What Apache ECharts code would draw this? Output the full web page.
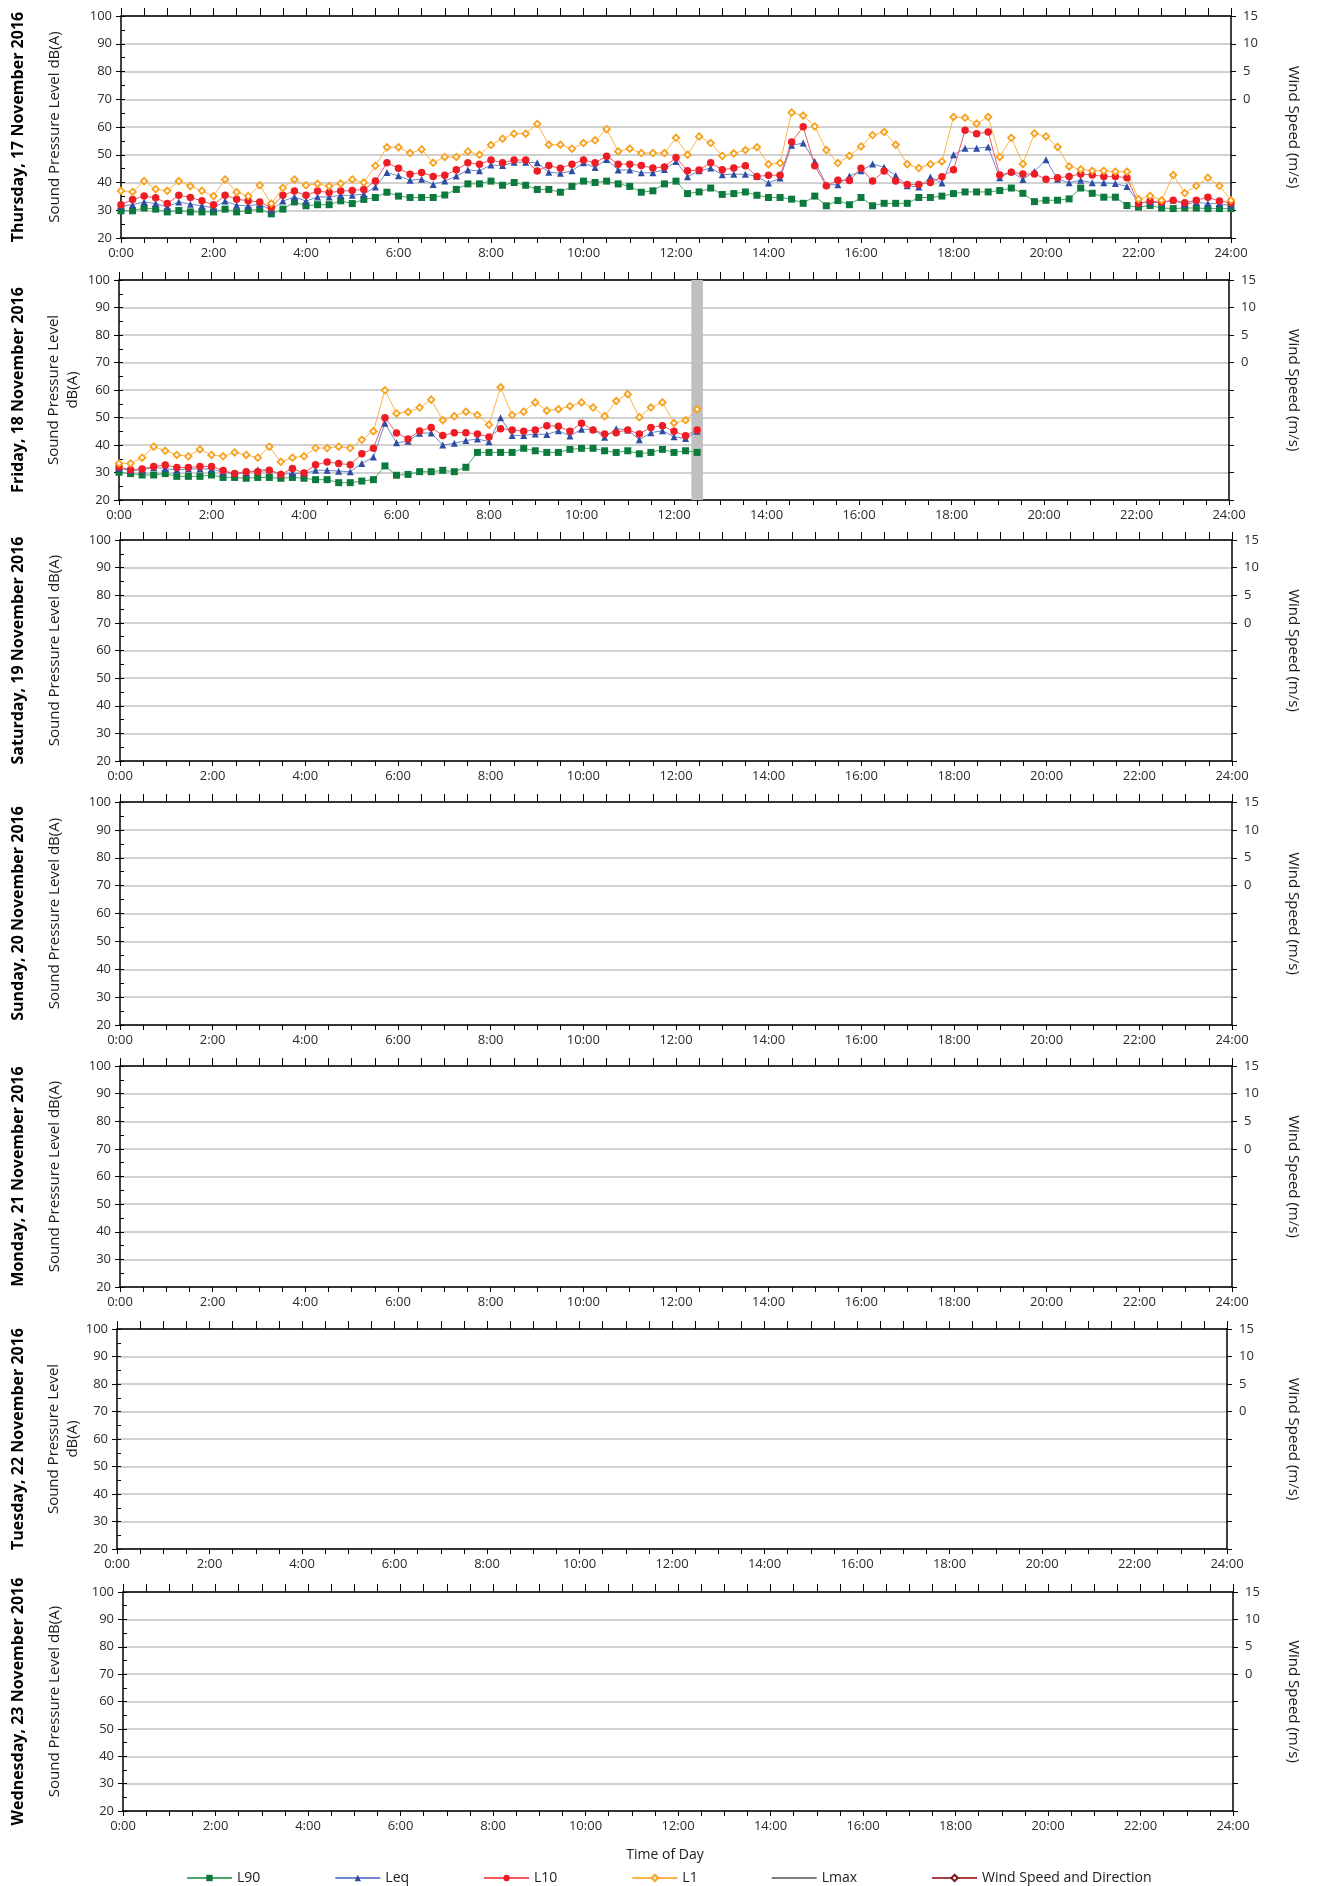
<!DOCTYPE html>
<html><head><meta charset="utf-8">
<script src="https://cdn.jsdelivr.net/npm/echarts@6/dist/echarts.min.js"></script>
<style>html,body{margin:0;padding:0;background:#fff}#c{width:1317px;height:1886px}</style>
</head><body><div id="c"></div>
<script>
// ---- labels ----
const dayTitles = ["Thursday, 17 November 2016","Friday, 18 November 2016","Saturday, 19 November 2016","Sunday, 20 November 2016","Monday, 21 November 2016","Tuesday, 22 November 2016","Wednesday, 23 November 2016"];
const leftNames = [["Sound Pressure Level dB(A)"],["Sound Pressure Level","dB(A)"],["Sound Pressure Level dB(A)"],["Sound Pressure Level dB(A)"],["Sound Pressure Level dB(A)"],["Sound Pressure Level","dB(A)"],["Sound Pressure Level dB(A)"]];
const rightName = "Wind Speed (m/s)";
const xName = "Time of Day";
const seriesNames = ["L90","Leq","L10","L1","Lmax","Wind Speed and Direction"];
const stepHours = 0.25; // 15-minute intervals

// ---- Thursday 17 Nov (0:00 .. 24:00, 15 min) ----
const thuL90 = [29.8,29.8,30.8,30.4,29.4,29.9,29.4,29.4,29.4,30.4,29.4,29.9,30.4,28.7,30.4,33.0,31.6,32.0,32.0,33.4,32.4,33.9,34.6,36.5,35.1,
34.6,34.6,34.6,35.5,37.5,39.5,39.5,40.5,39.0,40.0,39.0,37.5,37.5,36.5,38.6,40.5,40.0,40.5,39.5,38.6,36.5,37.0,39.5,40.5,36.0,36.6,38.0,35.7,36.0,36.6,35.4,34.6,34.6,34.0,32.5,35.1,31.6,33.5,32.0,34.6,31.6,32.5,32.5,32.5,34.6,34.6,35.1,36.0,36.6,36.6,36.6,37.1,38.0,36.1,33.1,33.6,33.6,34.1,38.0,36.1,34.7,34.7,31.7,31.1,31.7,30.8,30.6,30.8,30.8,30.6,30.6,30.6];
const thuLeq = [31.4,32.0,33.0,32.4,31.2,33.0,32.2,31.6,30.8,33.3,31.8,31.6,32.2,30.0,33.3,34.8,33.3,34.8,34.8,35.4,35.4,35.8,38.4,43.6,42.4,
40.8,41.2,39.3,40.5,42.3,44.5,44.2,46.3,46.1,47.3,47.3,47.1,43.7,43.3,44.2,47.1,45.4,48.3,44.5,44.5,43.5,43.5,44.7,47.6,42.1,44.2,45.2,42.8,43.0,43.0,42.2,39.8,41.6,53.4,54.2,47.6,39.2,39.2,42.3,44.2,46.7,45.5,42.5,38.8,38.4,42.0,39.8,50.0,52.3,52.3,52.8,41.7,44.0,41.1,44.0,48.2,41.2,39.9,40.8,39.9,39.9,39.6,38.6,32.7,32.9,32.7,33.6,32.2,32.9,32.4,32.4,31.6];
const thuL10 = [32.0,33.9,35.1,34.5,32.4,35.4,34.6,33.4,32.0,35.4,34.0,33.4,33.0,31.0,35.4,36.9,35.4,36.9,36.4,36.9,37.1,37.5,40.5,47.1,45.1,
43.0,43.6,42.2,42.6,44.6,47.1,46.6,48.1,47.1,48.1,48.1,44.1,46.1,45.1,46.6,48.1,47.1,49.5,46.6,46.6,46.1,45.2,45.6,49.0,44.2,44.5,47.1,44.6,45.2,46.0,42.2,42.6,42.6,54.6,60.1,46.0,38.8,40.8,40.7,45.1,40.5,44.1,40.5,39.3,39.3,40.0,42.1,44.6,58.8,57.6,58.2,42.7,43.7,43.1,43.1,41.2,41.7,42.2,43.1,42.7,42.2,42.2,41.7,32.4,33.3,32.9,33.6,32.7,33.6,34.7,33.3,32.7];
const thuL1 = [37.0,36.6,40.5,37.6,37.0,40.5,38.7,37.0,35.1,41.1,36.5,35.1,39.0,32.4,38.1,41.1,39.0,39.5,38.7,39.6,41.1,40.0,46.0,52.7,52.7,
50.6,51.9,47.1,49.2,49.2,51.2,50.0,53.5,55.8,57.6,57.6,61.1,53.6,53.6,52.2,54.2,55.2,59.2,51.2,52.2,50.6,50.6,50.6,56.1,50.0,56.6,54.2,49.6,50.5,51.7,52.7,46.6,47.0,65.2,64.1,60.2,51.7,47.0,49.6,53.0,57.1,58.2,53.6,46.6,45.2,46.6,47.6,63.6,63.3,61.2,63.6,49.2,56.1,46.7,57.7,56.6,52.8,45.8,44.7,44.2,44.2,43.9,43.9,34.0,35.2,33.6,42.7,36.2,38.8,41.7,38.8,33.6];

// ---- Friday 18 Nov (0:00 .. 12:30, 15 min) ----
const friL90 = [30.1,29.6,29.1,29.1,29.6,28.6,28.6,28.6,29.1,28.2,28.2,27.9,28.2,28.2,27.9,28.2,27.9,27.4,27.4,26.3,26.3,26.9,27.4,32.4,29.0,29.3,30.3,30.3,30.8,30.3,31.9,37.3,37.3,37.3,37.3,38.8,37.9,37.3,37.3,38.4,38.8,38.8,37.9,37.3,37.9,36.8,37.3,38.4,37.3,37.9,37.3];
const friLeq = [31.5,30.7,31.0,31.8,31.5,30.9,31.3,31.3,31.3,30.1,29.6,29.8,31.0,31.0,29.3,29.8,29.6,30.8,30.8,30.5,30.3,33.3,35.6,47.9,40.8,41.4,44.3,44.4,40.0,40.6,41.6,42.2,41.2,49.9,43.5,43.5,44.0,43.8,45.2,43.3,45.7,45.7,42.8,45.9,45.5,41.9,44.5,45.2,43.0,42.4,45.0];
const friL10 = [32.0,31.0,31.3,32.2,32.7,31.8,31.8,32.2,32.2,30.7,29.6,30.3,30.3,30.8,29.3,31.5,29.8,32.8,33.8,33.3,32.8,36.8,38.8,49.9,44.4,42.2,45.1,46.4,43.5,44.5,44.5,44.0,42.9,45.9,45.5,45.0,45.5,47.0,46.8,45.0,47.9,45.5,44.0,44.5,45.5,44.0,46.4,47.0,45.0,43.4,45.5];
const friL1 = [33.3,33.3,35.4,39.4,37.9,36.4,35.9,38.4,36.4,35.9,37.3,36.4,35.4,39.4,33.9,35.4,35.9,38.9,38.9,39.4,38.9,41.9,45.0,59.9,51.5,52.0,53.6,56.5,49.0,50.5,52.1,50.9,47.4,61.0,50.9,52.1,55.5,52.5,53.0,54.1,55.5,53.6,50.5,56.0,58.5,50.1,53.6,55.5,48.0,49.0,53.0];
const friGapBand = [12.375, 12.625]; // hours, grey band

// ---- layout ----
const panels = [
  {l:121, r:1231, t:16,   b:238},
  {l:119, r:1229, t:280,  b:500},
  {l:120, r:1232, t:540,  b:761},
  {l:120, r:1232, t:802,  b:1025},
  {l:120, r:1232, t:1066, b:1287},
  {l:117, r:1227, t:1329, b:1549},
  {l:123, r:1233, t:1592, b:1811}
];
const FONT = "'Open Sans', 'Noto Sans', sans-serif";
const C = {
  L90: {m:'#0b7a3c', l:'#4aa86a'},
  Leq: {m:'#2d4ea3', l:'#6f88cc'},
  L10: {m:'#ee1d25', l:'#f0595e'},
  L1:  {m:'#f7a11c', l:'#fbb44d'},
  Lmax:{m:'#555555', l:'#555555'},
  Wind:{m:'#7d1515', l:'#a84040'}
};

const grids=[], xAxes=[], yAxes=[], graphics=[], series=[];
panels.forEach((p,g)=>{
  grids.push({left:p.l, top:p.t, width:p.r-p.l, height:p.b-p.t, containLabel:false});
  const xBase = {gridIndex:g, type:'value', min:0, max:24, interval:0.5,
    axisLine:{onZero:false, lineStyle:{color:'#000', width:1.5}},
    splitLine:{show:false}};
  xAxes.push(Object.assign({}, xBase, {position:'bottom',
    axisTick:{length:5, lineStyle:{color:'#000', width:1}},
    axisLabel:{fontSize:13, color:'#2b2b2b', margin:9, fontFamily:FONT,
      formatter:v=> (v%2===0 ? (v+':00') : '')}}));
  xAxes.push(Object.assign({}, xBase, {position:'top',
    axisTick:{length:8, lineStyle:{color:'#000', width:1}},
    axisLabel:{show:false}}));
  yAxes.push({gridIndex:g, type:'value', min:20, max:100, interval:10, position:'left',
    axisLine:{show:true, onZero:false, lineStyle:{color:'#000', width:1.5}},
    axisTick:{show:true, length:5, lineStyle:{color:'#000'}},
    axisLabel:{fontSize:13, color:'#2b2b2b', margin:9, fontFamily:FONT},
    splitLine:{show:true, lineStyle:{color:'#c2c2c2', width:1.5}}});
  yAxes.push({gridIndex:g, type:'value', min:20, max:100, interval:5, position:'left',
    axisLine:{show:false, onZero:false},
    axisTick:{show:true, inside:true, length:4, lineStyle:{color:'#000'}},
    axisLabel:{show:false}, splitLine:{show:false}});
  yAxes.push({gridIndex:g, type:'value', min:-25, max:15, interval:5, position:'right',
    axisLine:{show:true, onZero:false, lineStyle:{color:'#000', width:1.5}},
    axisTick:{show:true, length:5, lineStyle:{color:'#000'}},
    axisLabel:{fontSize:13, color:'#2b2b2b', margin:12, fontFamily:FONT,
      formatter:v=> (v>=0 ? String(v) : '')},
    splitLine:{show:false}});
  const cy = (p.t+p.b)/2;
  graphics.push({type:'text', x:18, y:cy, rotation:Math.PI/2,
    style:{text:dayTitles[g], font:'bold 16px '+FONT, fill:'#000', align:'center', verticalAlign:'middle'}});
  const ln = leftNames[g];
  graphics.push({type:'text', x: ln.length>1 ? 63 : 55, y:cy, rotation:Math.PI/2,
    style:{text:ln.join('\n'), font:'15px '+FONT, fill:'#1a1a1a', align:'center', verticalAlign:'middle', lineHeight:19}});
  graphics.push({type:'text', x:1293, y:cy, rotation:-Math.PI/2,
    style:{text:rightName, font:'15px '+FONT, fill:'#1a1a1a', align:'center', verticalAlign:'middle'}});
});
graphics.push({type:'text', x:665, y:1855,
  style:{text:xName, font:'14px '+FONT, fill:'#1a1a1a', align:'center', verticalAlign:'middle'}});

function pts(arr){ return arr.map((v,i)=>[i*stepHours, v]); }
function mk(name, g, arr, key, symbol, size, hollow){
  const c = C[key];
  return {name, type:'line', xAxisIndex:g*2, yAxisIndex:g*3, data:pts(arr),
    symbol, symbolSize:size, showSymbol:true, animation:false, z: 3,
    lineStyle:{color:c.l, width:1},
    itemStyle: hollow ? {color:'#fff', borderColor:c.m, borderWidth:1.8} : {color:c.m, borderWidth:0},
    emphasis:{disabled:true}};
}
const dayData = [
  {g:0, L90:thuL90, Leq:thuLeq, L10:thuL10, L1:thuL1},
  {g:1, L90:friL90, Leq:friLeq, L10:friL10, L1:friL1}
];
dayData.forEach(d=>{
  const s90 = mk('L90', d.g, d.L90, 'L90', 'rect', 7, false);
  if (d.g===1) {
    s90.markArea = {silent:true, itemStyle:{color:'#bfbfbf', opacity:1},
      data:[[{xAxis:friGapBand[0], yAxis:20},{xAxis:friGapBand[1], yAxis:100}]]};
  }
  series.push(s90);
  series.push(mk('Leq', d.g, d.Leq, 'Leq', 'triangle', 7, false));
  series.push(mk('L10', d.g, d.L10, 'L10', 'circle', 7.5, false));
  series.push(mk('L1', d.g, d.L1, 'L1', 'diamond', 6.5, true));
});
series.push({name:'Lmax', type:'line', xAxisIndex:0, yAxisIndex:0, data:[], symbol:'none',
  lineStyle:{color:C.Lmax.l, width:1.5}, itemStyle:{color:C.Lmax.m}});
series.push({name:'Wind Speed and Direction', type:'line', xAxisIndex:0, yAxisIndex:2, data:[], symbol:'diamond', symbolSize:7,
  lineStyle:{color:C.Wind.l, width:1.5}, itemStyle:{color:'#fff', borderColor:C.Wind.m, borderWidth:1.8}});

const legendData = seriesNames.map(n => n==='Lmax'
  ? {name:n, icon:'path://M0,0 L45,0 L45,1.5 L0,1.5 Z', itemStyle:{color:C.Lmax.l}}
  : {name:n});

const chart = echarts.init(document.getElementById('c'), null, {renderer:'canvas'});
chart.setOption({
  animation:false,
  backgroundColor:'#fff',
  grid:grids, xAxis:xAxes, yAxis:yAxes, series,
  legend:{data:legendData, left:181, top:1866, itemWidth:45, itemHeight:8, itemGap:74,
    textStyle:{fontSize:14, color:'#1a1a1a', fontFamily:FONT}, selectedMode:false},
  graphic:graphics
});
</script></body></html>
